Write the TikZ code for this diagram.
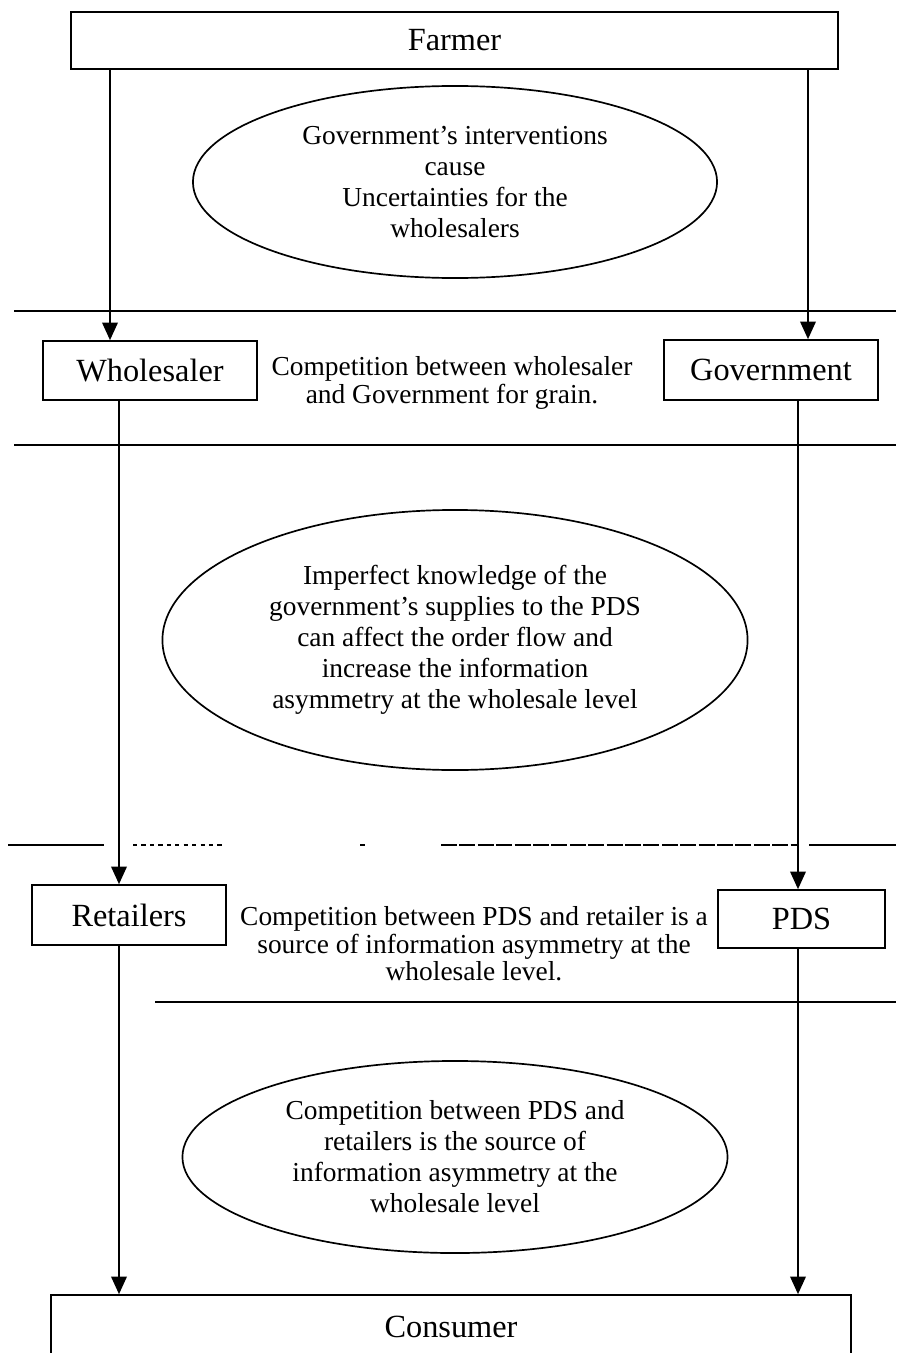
\documentclass[tikz,border=0pt]{standalone}
\usepackage{fontspec}
\setmainfont{Liberation Serif}
\usetikzlibrary{shapes.geometric, arrows.meta}

\tikzset{
  box/.style={draw, line width=1.2pt, inner sep=0pt, font=\fontsize{23}{27}\selectfont},
  bubble/.style={draw, ellipse, line width=1.2pt, inner sep=0pt, align=center, font=\fontsize{19.5}{22}\selectfont},
  note/.style={align=center, inner sep=0pt, font=\fontsize{19.5}{19.5}\selectfont},
  flow/.style={line width=1.2pt, -{Triangle[length=4.4mm, width=3.9mm]}},
  band/.style={line width=1pt},
}

\begin{document}
\begin{tikzpicture}[x=0.025cm, y=-0.025cm]
\useasboundingbox (0,0) rectangle (904,1353);
\clip (0,0) rectangle (904,1353);

\coordinate (colA) at (110,0);
\coordinate (colB) at (119,0);
\coordinate (colC) at (808,0);
\coordinate (colD) at (798,0);

\node[box, minimum width=19.175cm, minimum height=1.425cm] (farmer) at (454.5,40.5) {Farmer};
\node[box, minimum width=5.35cm, minimum height=1.475cm] (wholesaler) at (150,370.5) {Wholesaler};
\node[box, minimum width=5.35cm, minimum height=1.5cm] (government) at (771,370) {Government};
\node[box, minimum width=4.85cm, minimum height=1.5cm] (retailers) at (129,915) {Retailers};
\node[box, minimum width=4.175cm, minimum height=1.45cm] (pds) at (801.5,919) {PDS};
\node[box, minimum width=20cm, minimum height=1.6cm] (consumer) at (451,1327) {Consumer};

\node[bubble, minimum width=13.1cm, minimum height=4.8cm] (uncertain) at (455,182)
  {Government's interventions\\cause\\Uncertainties for the\\wholesalers};
\node[bubble, minimum width=14.625cm, minimum height=6.5cm] (knowledge) at (455,640)
  {Imperfect knowledge of the\\government's supplies to the PDS\\can affect the order flow and\\increase the information\\asymmetry at the wholesale level};
\node[bubble, minimum width=13.625cm, minimum height=4.8cm] (asymmetry) at (455,1157)
  {Competition between PDS and\\retailers is the source of\\information asymmetry at the\\wholesale level};

\node[note] (grain) at (452,383) {Competition between wholesaler\\and Government for grain.};
\node[note] (pdsretail) at (474,944) {Competition between PDS and retailer is a\\source of information asymmetry at the\\wholesale level.};

% separators
\draw[band] (14,311) -- (896,311);
\draw[band] (14,445) -- (896,445);
\draw[band] (8,845) -- (104,845);
\draw[band, dashed] (133,845) -- (223,845);
\draw[band] (360,845) -- (365,845);
\draw[band, dash pattern=on 4mm off 0.6mm] (441,845) -- (797,845);
\draw[band] (809,845) -- (896,845);
\draw[band] (155,1002) -- (896,1002);

% flows
\draw[flow] (farmer.south -| colA) -- (wholesaler.north -| colA);
\draw[flow] (farmer.south -| colC) -- (government.north -| colC);
\draw[flow] (wholesaler.south -| colB) -- (retailers.north -| colB);
\draw[flow] (government.south -| colD) -- (pds.north -| colD);
\draw[flow] (retailers.south -| colB) -- (consumer.north -| colB);
\draw[flow] (pds.south -| colD) -- (consumer.north -| colD);

\end{tikzpicture}
\end{document}
